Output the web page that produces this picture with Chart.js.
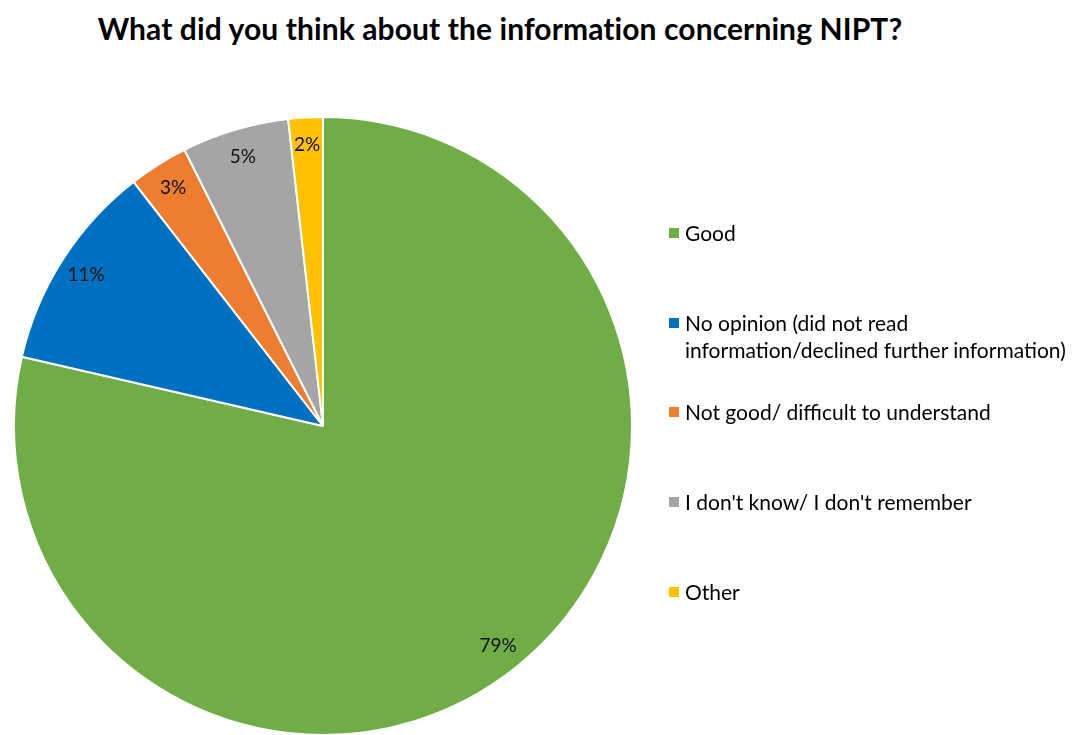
<!DOCTYPE html>
<html>
<head>
<meta charset="utf-8">
<script src="https://cdn.jsdelivr.net/npm/chart.js@4.4.0/dist/chart.umd.min.js"></script>
<style>
    html, body {
        margin: 0;
        padding: 0;
        width: 1072px;
        height: 735px;
        overflow: hidden;
        background: white;
        font-family: Lato, 'Open Sans', sans-serif;
    }
    #title {
        position: absolute;
        top: 12px;
        left: 0;
        width: 1000px;
        text-align: center;
        font-weight: bold;
        font-size: 30px;
        line-height: 32px;
        letter-spacing: 0.1px;
        color: #000;
        margin: 0;
    }
    #chartWrap {
        position: absolute;
        left: 0;
        top: 0;
    }
    #legend {
        position: absolute;
        left: 669px;
        top: 0;
        margin: 0;
        padding: 0;
        list-style: none;
        font-size: 21px;
        color: #000;
    }
    #legend li {
        position: absolute;
        left: 0;
        white-space: nowrap;
        line-height: 27px;
    }
    #legend li i {
        position: absolute;
        left: 0;
        top: 9px;
        width: 10px;
        height: 10px;
    }
    #legend li span {
        display: block;
        margin-left: 16px;
    }
</style>
</head>
<body>
<h1 id="title">What did you think about the information concerning NIPT?</h1>
<div id="chartWrap">
    <canvas id="pieChart" width="1072" height="852"></canvas>
</div>
<ul id="legend"></ul>

<script>
const answer_labels = [
    'Good',
    ['No opinion (did not read', 'information/declined further information)'],
    'Not good/ difficult to understand',
    "I don't know/ I don't remember",
    'Other'
];
const answer_share = [78.6, 10.9, 3.1, 5.6, 1.8];
const pct_labels = ['79%', '11%', '3%', '5%', '2%'];
const slice_colors = ['#70AD47', '#0070C0', '#ED7D31', '#A5A5A5', '#FFC000'];

// legend rows (y of first line centre)
const legend_rows = [233, 323, 412, 502, 592];

const legendEl = document.getElementById('legend');
answer_labels.forEach((lab, i) => {
    const li = document.createElement('li');
    li.style.top = (legend_rows[i] - 14) + 'px';
    const box = document.createElement('i');
    box.style.background = slice_colors[i];
    const txt = document.createElement('span');
    txt.innerHTML = Array.isArray(lab) ? lab.join('<br>') : lab;
    li.appendChild(box);
    li.appendChild(txt);
    legendEl.appendChild(li);
});

// percentage labels near the rim of each slice
const sliceLabels = {
    id: 'sliceLabels',
    afterDatasetsDraw(chart) {
        const ctx = chart.ctx;
        const meta = chart.getDatasetMeta(0);
        ctx.save();
        ctx.font = '19px Lato, "Open Sans", sans-serif';
        ctx.fillStyle = '#111111';
        ctx.textAlign = 'center';
        ctx.textBaseline = 'middle';
        meta.data.forEach((arc, i) => {
            const p = arc.getProps(['x', 'y', 'startAngle', 'endAngle', 'outerRadius'], true);
            const mid = (p.startAngle + p.endAngle) / 2;
            const r = p.outerRadius * 0.91;
            ctx.fillText(pct_labels[i], p.x + Math.cos(mid) * r, p.y + Math.sin(mid) * r);
        });
        ctx.restore();
    }
};

const pieCtx = document.getElementById('pieChart').getContext('2d');
const pieChart = new Chart(pieCtx, {
    type: 'pie',
    data: {
        labels: answer_labels,
        datasets: [{
            data: answer_share,
            backgroundColor: slice_colors,
            borderColor: '#ffffff',
            borderWidth: 2,
            radius: 309
        }]
    },
    options: {
        responsive: false,
        animation: false,
        layout: {
            padding: { left: 0, right: 426, top: 0, bottom: 0 }
        },
        plugins: {
            legend: { display: false },
            title: { display: false },
            tooltip: { enabled: false }
        }
    },
    plugins: [sliceLabels]
});
</script>
</body>
</html>
